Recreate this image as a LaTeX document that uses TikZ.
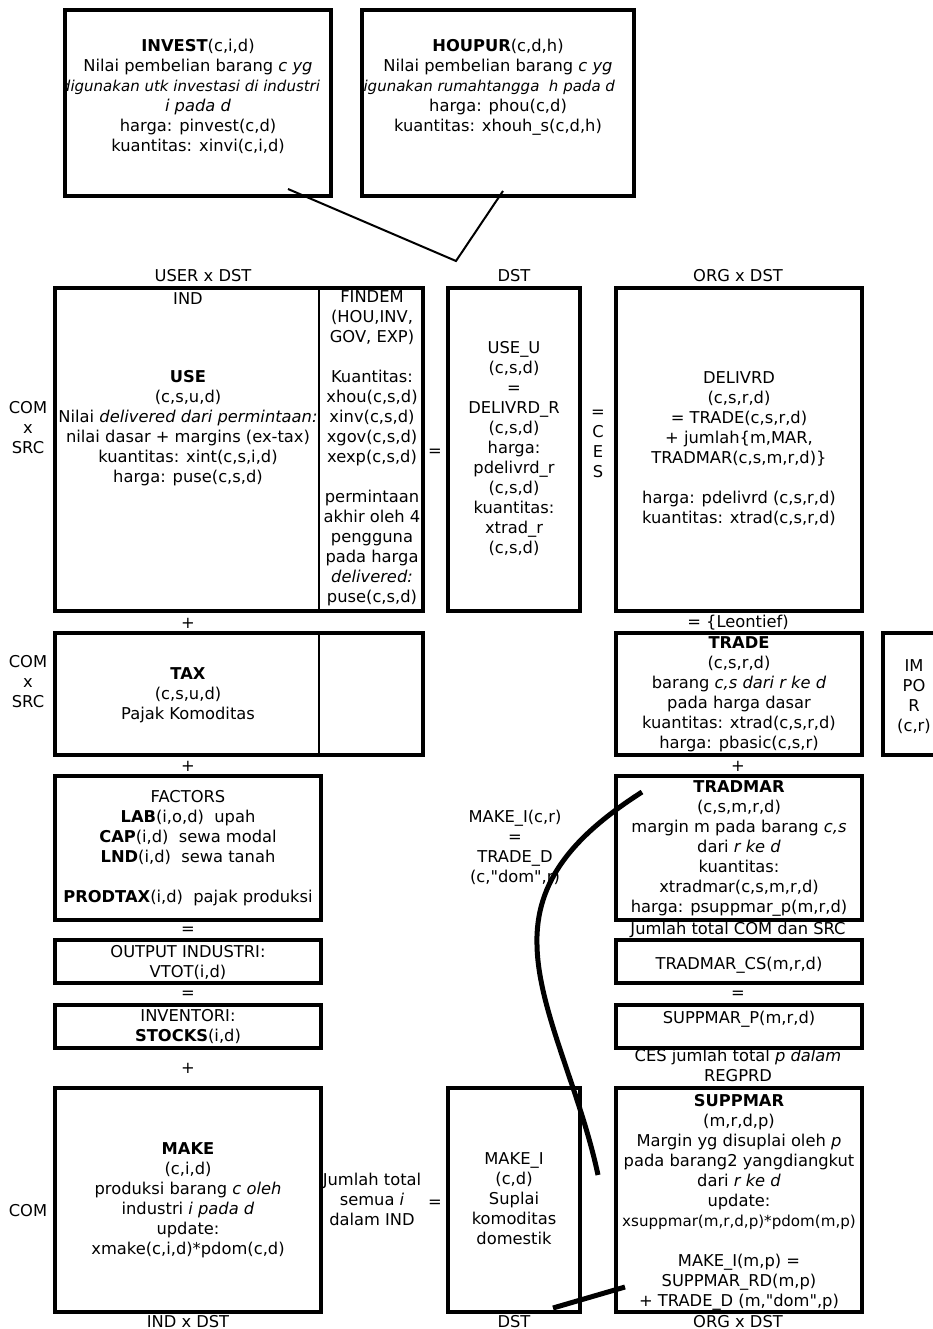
\documentclass[tikz,border=0pt]{standalone}
\usepackage{fontspec}
\setmainfont{DejaVu Sans}
\newcommand{\diagfont}{\fontsize{16.3}{20}\selectfont}
\newcommand{\narrowfont}{\fontsize{15}{20}\selectfont}

\begin{document}
\begin{tikzpicture}[x=1pt,y=-1pt,font=\diagfont,
  box/.style={draw,line width=3.7pt,inner sep=0pt},
  txt/.style={align=center,inner sep=0pt,anchor=north,execute at begin node=\strut},
  divider/.style={line width=2pt},
  link/.style={line width=2pt},
  thick link/.style={line width=5pt}]

\useasboundingbox (0,0) rectangle (933,1329);

% top boxes
\begin{scope}
\clip (65,10) rectangle (331,196);
\node[txt] (t-invest) at (198,39) {\textbf{INVEST}(c,i,d)\\Nilai pembelian barang \textit{c yg}\\
  \makebox[244pt][r]{\narrowfont\textit{digunakan utk investasi di industri}}\\\textit{i pada d}\\
  harga: pinvest(c,d)\\kuantitas: xinvi(c,i,d)};
\end{scope}
\begin{scope}
\clip (362,10) rectangle (634,196);
\node[txt] (t-houpur) at (498,39) {\textbf{HOUPUR}(c,d,h)\\Nilai pembelian barang \textit{c yg}\\
  \makebox[234pt][r]{\narrowfont\textit{digunakan rumahtangga\ \ h pada d}}\\harga: phou(c,d)\\
  kuantitas: xhouh\_s(c,d,h)};
\end{scope}
\node[box,minimum width=266pt,minimum height=186pt] (invest) at (198,103) {};
\node[box,minimum width=272pt,minimum height=186pt] (houpur) at (498,103) {};

% column and row labels
\node[txt] (h-user) at (203,267) {USER x DST};
\node[txt] (h-dst) at (514,267) {DST};
\node[txt] (h-org) at (738,267) {ORG x DST};
\node[txt] (r-use) at (28,401) {COM\\x\\SRC};
\node[txt] (r-tax) at (28,655) {COM\\x\\SRC};
\node[txt] (r-make) at (28,1202) {COM};
\node[txt] (f-ind) at (188,1313) {IND x DST};
\node[txt] (f-dst) at (514,1313) {DST};
\node[txt] (f-org) at (738,1313) {ORG x DST};

% USE block
\node[txt] (t-ind) at (188,290) {IND};
\node[txt] (t-use) at (188,370) {\textbf{USE}\\(c,s,u,d)\\Nilai \textit{delivered dari permintaan:}\\
  nilai dasar + margins (ex-tax)\\kuantitas: xint(c,s,i,d)\\harga: puse(c,s,d)};
\node[txt] (t-findem) at (372,290) {FINDEM\\(HOU,INV,\\GOV, EXP)\\[20pt]Kuantitas:\\xhou(c,s,d)\\
  xinv(c,s,d)\\xgov(c,s,d)\\xexp(c,s,d)\\[20pt]permintaan\\akhir oleh 4\\pengguna\\pada harga\\
  \textit{delivered:}\\puse(c,s,d)};
\node[txt] (eq-use) at (435,442) {=};
\node[txt] (t-useu) at (514,341) {USE\_U\\(c,s,d)\\=\\DELIVRD\_R\\(c,s,d)\\harga:\\pdelivrd\_r\\
  (c,s,d)\\kuantitas:\\xtrad\_r\\(c,s,d)};
\node[txt] (eq-ces) at (598,410) {=\\C\\E\\S};
\node[txt] (t-delivrd) at (739,371) {DELIVRD\\(c,s,r,d)\\= TRADE(c,s,r,d)\\+ jumlah\{m,MAR,\\
  TRADMAR(c,s,m,r,d)\}\\[20pt]harga: pdelivrd (c,s,r,d)\\kuantitas: xtrad(c,s,r,d)};

\node[box,minimum width=368pt,minimum height=323pt] (use) at (239,449.5) {};
\node[box,minimum width=132pt,minimum height=323pt] (useu) at (514,449.5) {};
\node[box,minimum width=246pt,minimum height=323pt] (delivrd) at (739,449.5) {};
\draw[divider] ([xshift=266pt]use.north west) -- ([xshift=266pt]use.south west);

% TAX and TRADE
\node[txt] (plus-tax) at (188,614) {+};
\node[txt] (leontief) at (738,613) {= \{Leontief)};
\node[txt] (t-tax) at (188,667) {\textbf{TAX}\\(c,s,u,d)\\Pajak Komoditas};
\node[txt] (t-trade) at (739,636) {\textbf{TRADE}\\(c,s,r,d)\\barang \textit{c,s dari r ke d}\\
  pada harga dasar\\kuantitas: xtrad(c,s,r,d)\\harga: pbasic(c,s,r)};
\node[txt] (t-impor) at (914,659) {IM\\PO\\R\\(c,r)};
\node[box,minimum width=368pt,minimum height=122pt] (tax) at (239,694) {};
\node[box,minimum width=246pt,minimum height=122pt] (trade) at (739,694) {};
\node[box,minimum width=62pt,minimum height=122pt] (impor) at (914,694) {};
\draw[divider] ([xshift=266pt]tax.north west) -- ([xshift=266pt]tax.south west);

% FACTORS and TRADMAR
\node[txt] (plus-fac) at (188,757) {+};
\node[txt] (plus-mar) at (738,757) {+};
\node[txt] (t-factors) at (188,790) {FACTORS\\\textbf{LAB}(i,o,d)\ \ upah\\\textbf{CAP}(i,d)\ \ sewa modal\\
  \textbf{LND}(i,d)\ \ sewa tanah\\[20pt]\textbf{PRODTAX}(i,d)\ \ pajak produksi};
\node[txt] (t-tradmar) at (739,780) {\textbf{TRADMAR}\\(c,s,m,r,d)\\margin m pada barang \textit{c,s}\\
  dari \textit{r ke d}\\kuantitas:\\xtradmar(c,s,m,r,d)\\harga: psuppmar\_p(m,r,d)};
\node[txt] (t-makeir) at (515,810) {MAKE\_I(c,r)\\=\\TRADE\_D\\(c,\textquotedbl dom\textquotedbl,r)};
\node[box,minimum width=266pt,minimum height=144pt] (factors) at (188,848) {};
\node[box,minimum width=246pt,minimum height=144pt] (tradmar) at (739,848) {};

% totals
\node[txt] (eq-out) at (188,920) {=};
\node[txt] (sum-cs) at (738,920) {Jumlah total COM dan SRC};
\node[txt] (t-output) at (188,945) {OUTPUT INDUSTRI:\\VTOT(i,d)};
\node[txt] (t-tradmarcs) at (739,955) {TRADMAR\_CS(m,r,d)};
\node[box,minimum width=266pt,minimum height=43pt] (output) at (188,961.5) {};
\node[box,minimum width=246pt,minimum height=43pt] (tradmarcs) at (739,961.5) {};
\node[txt] (eq-inv) at (188,984) {=};
\node[txt] (eq-sup) at (738,984) {=};
\node[txt] (t-stocks) at (188,1009) {INVENTORI:\\\textbf{STOCKS}(i,d)};
\node[txt] (t-suppmarp) at (739,1009) {SUPPMAR\_P(m,r,d)};
\node[box,minimum width=266pt,minimum height=43pt] (stocks) at (188,1026.5) {};
\node[box,minimum width=246pt,minimum height=43pt] (suppmarp) at (739,1026.5) {};
\node[txt] (plus-make) at (188,1059) {+};
\node[txt] (ces-p) at (738,1049) {CES jumlah total \textit{p dalam}\\REGPRD};

% MAKE block
\node[txt] (t-make) at (188,1142) {\textbf{MAKE}\\(c,i,d)\\produksi barang \textit{c oleh}\\
  industri \textit{i pada d}\\update:\\xmake(c,i,d)*pdom(c,d)};
\node[txt] (sum-ind) at (372,1173) {Jumlah total\\semua \textit{i}\\dalam IND};
\node[txt] (eq-make) at (435,1193) {=};
\node[txt] (t-makei) at (514,1152) {MAKE\_I\\(c,d)\\Suplai\\komoditas\\domestik};
\node[txt] (t-suppmar) at (739,1094) {\textbf{SUPPMAR}\\(m,r,d,p)\\Margin yg disuplai oleh \textit{p}\\
  pada barang2 yangdiangkut\\dari \textit{r ke d}\\update:\\
  {\fontsize{15.1}{20}\selectfont xsuppmar(m,r,d,p)*pdom(m,p)}\\[20pt]
  MAKE\_I(m,p) =\\SUPPMAR\_RD(m,p)\\+ TRADE\_D (m,\textquotedbl dom\textquotedbl,p)};
\node[box,minimum width=266pt,minimum height=224pt] (make) at (188,1200) {};
\node[box,minimum width=132pt,minimum height=224pt] (makei) at (514,1200) {};
\node[box,minimum width=246pt,minimum height=224pt] (suppmar) at (739,1200) {};

% hand-drawn links
\coordinate (inv-end) at (288,189);
\coordinate (v-tip) at (456,261);
\coordinate (hou-end) at (503,191);
\draw[link] (inv-end) -- (v-tip) -- (hou-end);

\coordinate (mar-end) at (642,792);
\coordinate (bend) at (537,945);
\coordinate (sup-end) at (598,1175);
\draw[thick link] (mar-end) .. controls (575,835) and (535,880) .. (bend)
  .. controls (538,1010) and (580,1090) .. (sup-end);

\coordinate (makei-end) at (553,1308);
\coordinate (trd-end) at (625,1287);
\draw[thick link] (makei-end) -- (trd-end);
\end{tikzpicture}
\end{document}
